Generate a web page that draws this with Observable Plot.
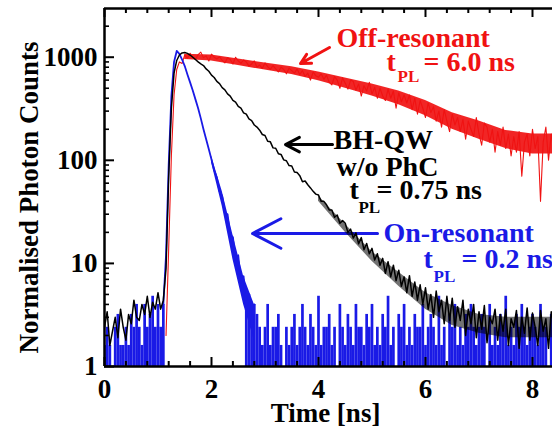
<!DOCTYPE html>
<html><head><meta charset="utf-8">
<script src="https://cdn.jsdelivr.net/npm/d3@7"></script>
<script src="https://cdn.jsdelivr.net/npm/@observablehq/plot@0.6"></script>
<style>
html,body{margin:0;padding:0;background:#fff;}
#chart{width:552px;height:427px;overflow:hidden;}
</style></head><body><div id="chart"></div>
<script>
// sampling step of the time traces (ns)
const DT = 0.05;

// Off-resonant (red), starts at 1.15 ns
const redStart = 1.15;
const redCounts = [
  2, 14, 110, 430, 760, 900, 870, 1050, 980, 1090,
  1010, 950, 1060, 1120, 990, 1030, 920, 1070, 1000, 960,
  1010, 930, 880, 990, 950, 860, 1000, 920, 870, 940,
  900, 820, 860, 920, 800, 840, 780, 880, 810, 760,
  830, 770, 720, 800, 760, 690, 780, 740, 700, 770,
  680, 740, 650, 700, 600, 720, 660, 640, 690, 610,
  670, 570, 540, 650, 600, 500, 630, 560, 490, 600,
  580, 480, 550, 420, 530, 470, 570, 440, 510, 400,
  500, 420, 380, 490, 400, 470, 320, 450, 370, 430,
  360, 430, 310, 400, 280, 380, 320, 260, 360, 290,
  330, 240, 300, 210, 310, 240, 190, 280, 220, 260,
  190, 250, 160, 240, 200, 170, 260, 180, 140, 230,
  210, 150, 200, 120, 190, 140, 210, 130, 180, 110,
  170, 120, 190, 70, 150, 180, 110, 200, 130, 170,
  40, 150, 210, 100, 180, 120
];
// dense core of the red noise band
const redBandTimes = [1.5, 2, 2.5, 3, 3.5, 4, 4.5, 5, 5.5, 6, 6.5, 7, 7.5, 8, 8.4];
const redBandLow  = [950, 920, 830, 750, 680, 590, 500, 420, 345, 270, 200, 160, 130, 115, 115];
const redBandHigh = [1070, 1050, 960, 880, 810, 720, 630, 550, 470, 380, 290, 240, 195, 180, 180];

// BH-QW w/o PhC (black), starts at 0 ns
const blackStart = 0;
const blackCounts = [
  2.4, 3.4, 1.6, 2.2, 3.0, 1.9, 3.6, 2.4, 1.8, 3.2,
  2.6, 4.4, 3.0, 2.8, 4.0, 3.2, 4.8, 3.0, 4.2, 3.6,
  5.2, 3.6, 4.4, 9, 70, 320, 700, 930, 1050, 1100,
  1110, 1090, 1050, 1000, 950, 900, 860, 830, 770, 730,
  670, 636, 582, 554, 506, 483, 441, 420, 382, 367,
  333, 320, 289, 280, 252, 243, 220, 210, 196, 178,
  174, 153, 151, 132, 131, 116, 114, 101, 99, 89,
  88, 77, 76, 71, 62, 63, 58, 54, 50, 47,
  46, 40, 40, 37, 33, 33, 28, 29.5, 24.5, 26,
  24.5, 20, 21.5, 17.6, 19.8, 15.5, 17.8, 13.6, 15.6, 12.4,
  14, 10.8, 12.4, 9.6, 11.2, 8.0, 10.4, 7.4, 9.6, 6.8,
  8.6, 6.0, 7.4, 5.2, 7.6, 4.8, 6.6, 4.4, 6.2, 4.0,
  5.8, 3.6, 5.0, 3.0, 5.4, 3.4, 4.4, 2.6, 4.8, 2.8,
  4.6, 2.4, 3.8, 2.8, 4.4, 2.0, 3.6, 2.6, 4.0, 1.9,
  3.4, 2.3, 3.9, 1.7, 3.0, 2.6, 3.6, 1.8, 3.2, 2.2,
  3.6, 1.6, 2.9, 2.4, 3.5, 1.5, 3.0, 2.1, 3.7, 1.8,
  3.3, 2.4, 1.6, 3.5, 2.2, 2.9, 1.5, 3.4, 2.6
];
// dense core of the black tail
const blackBandTimes = [4.0, 4.5, 5.0, 5.5, 6.0, 6.5, 7.0, 7.5, 8.0, 8.4];
const blackBandLow  = [40, 20, 10.5, 6.0, 3.6, 2.5, 2.1, 1.9, 1.9, 1.9];
const blackBandHigh = [45, 24, 13, 8.2, 5.2, 3.9, 3.2, 3.0, 3.0, 3.0];

// On-resonant (blue), starts at 0 ns
const blueStart = 0;
const blueCounts = [
  1.6, 2.4, 1.6, 0.8, 2.4, 3.2, 1.6, 1.6, 2.4, 1.6,
  3.2, 2.4, 4.0, 2.4, 1.6, 4.0, 2.4, 3.2, 4.8, 2.4,
  4.0, 2.4, 4.0, 12, 90, 420, 900, 1150, 1080, 950,
  820, 680, 570, 475, 390, 320, 255, 200, 160, 128,
  102, 80, 68, 50, 45, 31, 30, 19, 18, 11,
  12, 6.5, 7.5, 3.6, 5.0, 2.4, 4.0, 3.2, 2.4, 1.6,
  2.4, 4.0, 1.6, 2.4, 2.4, 3.2, 1.6, 0.8, 2.4, 1.6,
  2.4, 3.2, 1.6, 2.4, 4.0, 2.4, 1.6, 3.2, 2.4, 1.6,
  4.8, 1.6, 2.4, 2.4, 3.2, 1.6, 2.4, 0.8, 4.0, 2.4,
  1.6, 3.2, 2.4, 1.6, 4.0, 2.4, 2.4, 1.6, 3.2, 2.4,
  4.0, 1.6, 2.4, 1.6, 3.2, 2.4, 4.8, 1.6, 2.4, 0.8,
  3.2, 2.4, 4.0, 1.6, 2.4, 1.6, 3.2, 2.4, 2.4, 4.0,
  1.6, 2.4, 3.2, 2.4, 1.6, 4.8, 1.6, 2.4, 0.8, 3.2,
  2.4, 4.0, 1.6, 2.4, 1.6, 3.2, 2.4, 4.0, 2.4, 1.6,
  2.4, 3.2, 2.4, 0.8, 4.0, 1.6, 2.4, 1.6, 3.2, 2.4,
  4.8, 1.6, 2.4, 1.6, 3.2, 2.4, 4.0, 2.4, 1.6, 2.4,
  3.2, 2.4, 1.6, 4.0, 2.4, 2.4, 0.8, 3.2, 1.6
];
// dense core of the blue decay tail
const blueBandTimes = [2.0, 2.2, 2.4, 2.6, 2.8];
const blueBandLow  = [95, 36, 11, 4, 1.8];
const blueBandHigh = [110, 50, 19, 7.5, 4];

// axes
const xTicks = [0, 2, 4, 6, 8];
const xMinorTicks = [0.4, 0.8, 1.2, 1.6, 2.4, 2.8, 3.2, 3.6, 4.4, 4.8, 5.2, 5.6, 6.4, 6.8, 7.2, 7.6];
const yTicks = [1, 10, 100, 1000];
const yMinorTicks = [2, 3, 4, 5, 6, 7, 8, 9, 20, 30, 40, 50, 60, 70, 80, 90, 200, 300, 400, 500, 600, 700, 800, 900, 2000];
const xLabel = "Time [ns]";
const yLabel = "Normalised Photon Counts";

// annotations
const labelOff = "Off-resonant", labelOffTau = "= 6.0 ns";
const labelBH1 = "BH-QW", labelBH2 = "w/o PhC", labelBHTau = "= 0.75 ns";
const labelOn = "On-resonant", labelOnTau = "= 0.2 ns";

const series = (start, values) => values.map((v, i) => ({t: +(start + i * DT).toFixed(2), v}));
const band = (ts, lo, hi) => ts.map((t, i) => ({t, lo: lo[i], hi: hi[i]}));
const red = series(redStart, redCounts);
const black = series(blackStart, blackCounts);
const blue = series(blueStart, blueCounts);
const redBand = band(redBandTimes, redBandLow, redBandHigh);
const blackBand = band(blackBandTimes, blackBandLow, blackBandHigh);
const blueBand = band(blueBandTimes, blueBandLow, blueBandHigh);
const blueFloor = blue.filter(d => d.v < 6);
const bluePulse = blue.filter(d => d.t >= 1.1 && d.t <= 2.8);

const RED = "#f01212", BLUE = "#1a1ae6", BLK = "#000";
const serif = "'Liberation Serif','Times New Roman',serif";
const W = 552, H = 427, mL = 104, mT = 8, mB = 61;
const FW = W - mL, FH = H - mT - mB;
const fs = 28;

const txt = (s, x, y, o) => Plot.text([s], {x: () => x, y: () => y, text: d => d, textAnchor: "start", lineAnchor: "bottom",
  fontFamily: serif, fontWeight: "bold", fontSize: fs, ...o});

const chart = Plot.plot({
  width: W, height: H, marginLeft: mL, marginRight: 0, marginTop: mT, marginBottom: mB,
  style: {fontFamily: serif, fontWeight: "bold", background: "#fff", color: "#000", overflow: "hidden"},
  x: {domain: [0, 8.374]},
  y: {type: "log", domain: [1, 2968]},
  marks: [
    Plot.axisY(yTicks, {anchor: "left", tickSize: 0, tickPadding: 7, tickFormat: d => String(d), fontSize: 27, fontWeight: "bold", fontFamily: serif, label: null}),
    Plot.axisX(xTicks, {anchor: "bottom", tickSize: 0, tickPadding: 12, tickFormat: d => String(d), fontSize: 27, fontWeight: "bold", fontFamily: serif, label: null}),
    Plot.text([xLabel], {frameAnchor: "bottom", textAnchor: "middle", dx: -3, dy: 55, lineAnchor: "bottom", fontSize: 27, fontWeight: "bold", fontFamily: serif}),
    Plot.text([yLabel], {frameAnchor: "left", textAnchor: "middle", rotate: -90, dx: -67, dy: 10, lineAnchor: "bottom", fontSize: 27, fontWeight: "bold", fontFamily: serif}),
    // arrows
    Plot.arrow([0], {x1: () => 4.206, y1: () => 1242, x2: () => 3.664, y2: () => 869, stroke: RED, strokeWidth: 3, headLength: 16, headAngle: 55}),
    Plot.arrow([0], {x1: () => 4.262, y1: () => 142, x2: () => 3.383, y2: () => 142, stroke: BLK, strokeWidth: 3, headLength: 16, headAngle: 55}),
    Plot.arrow([0], {x1: () => 5.103, y1: () => 19.5, x2: () => 2.766, y2: () => 19.5, stroke: BLUE, strokeWidth: 3, headLength: 16, headAngle: 55}),
    // traces
    Plot.areaY(redBand, {x: "t", y1: "lo", y2: "hi", fill: RED, fillOpacity: 0.92, clip: true}),
    Plot.line(red, {x: "t", y: "v", stroke: RED, strokeWidth: 1.1, clip: true}),
    Plot.ruleX(blueFloor, {x: "t", y1: 1, y2: "v", stroke: BLUE, strokeWidth: 2.7, clip: true}),
    Plot.areaY(blueBand, {x: "t", y1: "lo", y2: "hi", fill: BLUE, clip: true}),
    Plot.line(bluePulse, {x: "t", y: "v", stroke: BLUE, strokeWidth: 1.8, clip: true}),
    Plot.areaY(blackBand, {x: "t", y1: "lo", y2: "hi", fill: BLK, fillOpacity: 0.55, clip: true}),
    Plot.line(black, {x: "t", y: "v", stroke: BLK, strokeWidth: 1.5, clip: true}),
    // frame
    Plot.ruleX([0], {stroke: BLK, strokeWidth: 2.5}),
    Plot.ruleY([1], {stroke: BLK, strokeWidth: 2.5}),
    Plot.ruleY([2968], {stroke: BLK, strokeWidth: 2.5}),
    // inward ticks
    Plot.tickX(xTicks, {x: d => d, insetTop: FH - 9, stroke: BLK, strokeWidth: 2}),
    Plot.tickX(xMinorTicks, {x: d => d, insetTop: FH - 5, stroke: BLK, strokeWidth: 2}),
    Plot.tickX(xTicks, {x: d => d, insetBottom: FH - 9, stroke: BLK, strokeWidth: 2}),
    Plot.tickX(xMinorTicks, {x: d => d, insetBottom: FH - 5, stroke: BLK, strokeWidth: 2}),
    Plot.tickY(yTicks, {y: d => d, insetRight: FW - 10, stroke: BLK, strokeWidth: 2}),
    Plot.tickY(yMinorTicks, {y: d => d, insetRight: FW - 5, stroke: BLK, strokeWidth: 1.6}),
    // annotations
    txt(labelOff, 4.336, 1270, {fill: RED}),
    txt("t", 5.271, 743, {fill: RED}),
    txt("PL", 5.271, 743, {fill: RED, fontSize: 17, dx: 11, dy: 11}),
    txt(labelOffTau, 5.271, 743, {fill: RED, dx: 37}),
    txt(labelBH1, 4.280, 130, {fill: BLK}),
    txt(labelBH2, 4.336, 71.2, {fill: BLK}),
    txt("t", 4.579, 42.6, {fill: BLK}),
    txt("PL", 4.579, 42.6, {fill: BLK, fontSize: 17, dx: 9, dy: 14}),
    txt(labelBHTau, 4.579, 42.6, {fill: BLK, dx: 27}),
    txt(labelOn, 5.215, 16.3, {fill: BLUE}),
    txt("t", 5.963, 9.12, {fill: BLUE}),
    txt("PL", 5.963, 9.12, {fill: BLUE, fontSize: 17, dx: 10, dy: 14}),
    txt(labelOnTau, 5.963, 9.12, {fill: BLUE, dx: 38})
  ]
});
document.getElementById("chart").appendChild(chart);
</script>
</body></html>
